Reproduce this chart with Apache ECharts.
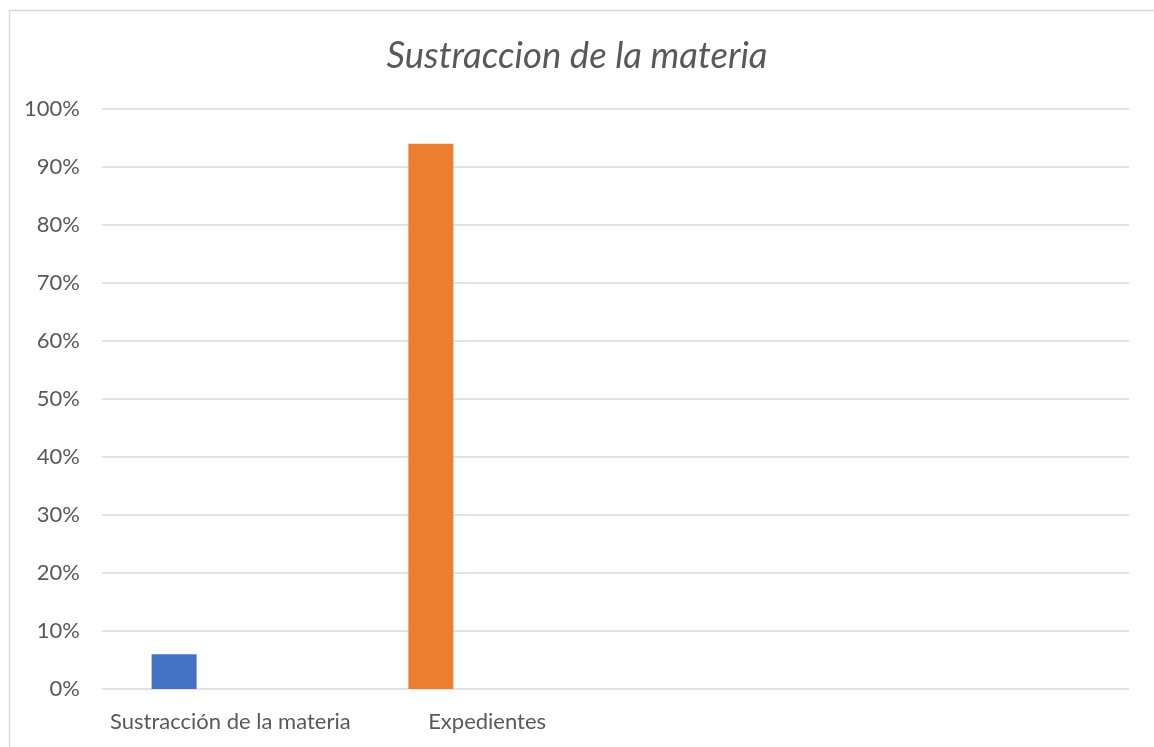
<!DOCTYPE html>
<html><head><meta charset="utf-8">
<script src="https://cdn.jsdelivr.net/npm/echarts@6/dist/echarts.min.js"></script>
<style>html,body{margin:0;padding:0;background:#fff}#c{width:1154px;height:747px}</style>
</head><body><div id="c"></div>
<script>
var titleText = 'Sustraccion de la materia';
var categories = ['Sustracción de la materia', 'Expedientes', '', ''];
var values = [6, 94, null, null];
var pointColors = ['#4472C4', '#ED7D31', '#A5A5A5', '#FFC000'];
var yTicks = [0, 10, 20, 30, 40, 50, 60, 70, 80, 90, 100];

var chart = echarts.init(document.getElementById('c'), null, {renderer: 'canvas'});
chart.setOption({
  animation: false,
  backgroundColor: '#fff',
  graphic: [{
    type: 'rect', silent: true, z: -1,
    shape: {x: 9.5, y: 10.5, width: 1200, height: 800},
    style: {fill: 'none', stroke: '#d9d9d9', lineWidth: 1.5}
  }],
  title: {
    text: titleText, left: 'center', top: 33,
    textStyle: {fontFamily: 'Lato', fontStyle: 'italic', fontWeight: 'normal', fontSize: 36.5, color: '#595959'}
  },
  grid: {left: 102, right: 25, top: 109, bottom: 58, containLabel: false},
  xAxis: {
    type: 'category', data: categories,
    axisLine: {show: false}, axisTick: {show: false},
    axisLabel: {fontFamily: 'Lato', fontSize: 22, color: '#595959', margin: 22, interval: 0}
  },
  yAxis: {
    type: 'value', min: 0, max: 100, interval: 10,
    axisLine: {show: false}, axisTick: {show: false},
    splitLine: {lineStyle: {color: '#d9d9d9', width: 1.5}},
    axisLabel: {fontFamily: 'Lato', fontSize: 22, color: '#595959', margin: 22,
      formatter: function (v) { return yTicks.indexOf(v) >= 0 ? v + '%' : ''; }}
  },
  series: [
    {type: 'bar', barWidth: 45, barGap: '25%',
     data: values.map(function (v, i) { return {value: v, itemStyle: {color: pointColors[i]}}; })},
    {type: 'bar', barWidth: 45, data: [null, null, null, null]},
    {type: 'bar', barWidth: 45, data: [null, null, null, null]}
  ]
});
</script></body></html>
